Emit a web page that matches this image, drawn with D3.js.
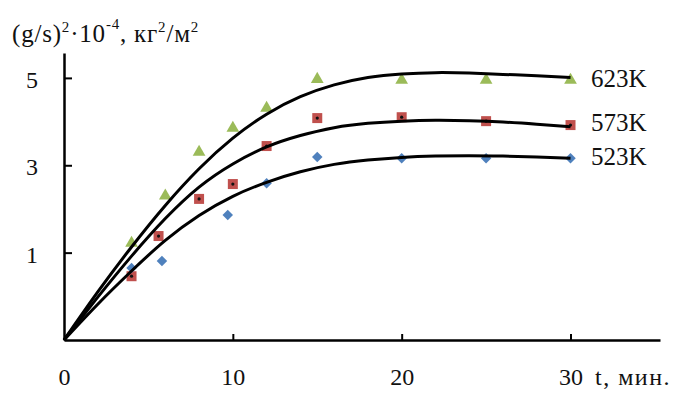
<!DOCTYPE html>
<html>
<head>
<meta charset="utf-8">
<script src="https://d3js.org/d3.v7.min.js"></script>
<style>
  html, body { margin: 0; padding: 0; background: #fff; }
  svg text { font-family: "Liberation Serif", "DejaVu Serif", serif; fill: #111; }
</style>
</head>
<body>
<svg width="676" height="394"></svg>
<script>
// measured points (t, min ; value in axis units)
var t623 = [4, 6, 8, 10, 12, 15, 20, 25, 30];
var v623 = [1.22, 2.30, 3.30, 3.85, 4.31, 4.97, 4.95, 4.95, 4.95];
var t573 = [4, 5.6, 8, 10, 12, 15, 20, 25, 30];
var v573 = [0.46, 1.38, 2.23, 2.57, 3.44, 4.08, 4.10, 4.01, 3.92];
var t523 = [4, 5.8, 9.7, 12, 15, 20, 25, 30];
var v523 = [0.65, 0.81, 1.86, 2.59, 3.19, 3.16, 3.16, 3.16];

// trend curves
var curveT = [0, 2, 4, 6, 8, 10, 12, 14, 16, 18, 20, 22, 24, 26, 28, 30];
var fit623 = [-1, 0.10, 1.13, 2.08, 2.92, 3.62, 4.17, 4.57, 4.84, 5.01, 5.09, 5.12, 5.11, 5.08, 5.05, 5.01];
var fit573 = [-1, -0.02, 0.92, 1.78, 2.50, 3.03, 3.42, 3.68, 3.86, 3.96, 4.01, 4.03, 4.02, 3.99, 3.94, 3.88];
var fit523 = [-1, -0.18, 0.58, 1.28, 1.85, 2.29, 2.61, 2.85, 3.02, 3.12, 3.18, 3.21, 3.22, 3.21, 3.19, 3.16];

var xTicks = [0, 10, 20, 30];
var yTicks = [1, 3, 5];
var labels = ["623K", "573K", "523K"];

var svg = d3.select("svg");

var x = d3.scaleLinear().domain([0, 35.3]).range([64, 660]);
var y = d3.scaleLinear().domain([-1, 5.57]).range([340, 53]);

function pts(ts, vs) { return ts.map(function(t, i) { return [t, vs[i]]; }); }

var series = [
  {name: labels[0], pts: pts(t623, v623), fit: pts(curveT, fit623), color: "#9bbb59", shape: d3.symbolTriangle, size: 70, rot: 0},
  {name: labels[1], pts: pts(t573, v573), fit: pts(curveT, fit573), color: "#c0504d", shape: d3.symbolSquare, size: 100, rot: 0},
  {name: labels[2], pts: pts(t523, v523), fit: pts(curveT, fit523), color: "#4f81bd", shape: d3.symbolSquare, size: 55, rot: 45}
];

// axes
var xAxis = svg.append("g")
    .attr("transform", "translate(0," + y(-1) + ")")
    .call(d3.axisBottom(x).tickValues(xTicks).tickSizeInner(-6).tickSizeOuter(0).tickPadding(28));
var yAxis = svg.append("g")
    .attr("transform", "translate(" + x(0) + ",0)")
    .call(d3.axisLeft(y).tickValues(yTicks).tickFormat(d3.format("d")).tickSizeInner(-8).tickSizeOuter(0).tickPadding(26));

[xAxis, yAxis].forEach(function(a) {
  a.select(".domain").attr("stroke", "#000").attr("stroke-width", 2.5);
  a.selectAll(".tick line").attr("stroke", "#000").attr("stroke-width", 2);
  a.selectAll(".tick text").attr("font-size", 24).attr("fill", "#111")
    .attr("font-family", "Liberation Serif, serif");
});
xAxis.selectAll(".tick").filter(function(d) { return d === 0; }).select("line").remove();
yAxis.selectAll(".tick text").attr("dy", "0.4em");

// markers
series.forEach(function(s) {
  var g = svg.append("g");
  g.selectAll("path")
    .data(s.pts)
    .enter().append("path")
      .attr("transform", function(d) { return "translate(" + x(d[0]) + "," + y(d[1]) + ") rotate(" + s.rot + ")"; })
      .attr("d", d3.symbol().type(s.shape).size(s.size))
      .attr("fill", s.color);
  if (s.size === 100) {
    g.selectAll("circle")
      .data(s.pts)
      .enter().append("circle")
        .attr("cx", function(d) { return x(d[0]); })
        .attr("cy", function(d) { return y(d[1]); })
        .attr("r", 1.6)
        .attr("fill", "#111");
  }
});

// trend curves
var line = d3.line()
    .x(function(d) { return x(d[0]); })
    .y(function(d) { return y(d[1]); })
    .curve(d3.curveNatural);

series.forEach(function(s) {
  svg.append("path")
    .datum(s.fit)
    .attr("fill", "none")
    .attr("stroke", "#000")
    .attr("stroke-width", 3)
    .attr("d", line);
});

// series labels
var labelY = [78, 122, 156];
svg.selectAll(".lbl")
  .data(labels)
  .enter().append("text")
    .attr("class", "lbl")
    .attr("x", 591)
    .attr("y", function(d, i) { return labelY[i]; })
    .attr("dy", "0.34em")
    .attr("font-size", 25)
    .text(function(d) { return d; });

// axis titles
var title = svg.append("text")
    .attr("x", 12)
    .attr("y", 42)
    .attr("font-size", 25)
    .attr("letter-spacing", 0.8);
title.append("tspan").text("(g/s)");
title.append("tspan").attr("dy", -10).attr("font-size", 15).text("2");
title.append("tspan").attr("dy", 10).text("·10");
title.append("tspan").attr("dy", -13).attr("font-size", 15).text("-4");
title.append("tspan").attr("dy", 13).text(", кг");
title.append("tspan").attr("dy", -10).attr("font-size", 15).text("2");
title.append("tspan").attr("dy", 10).text("/м");
title.append("tspan").attr("dy", -10).attr("font-size", 15).text("2");

svg.append("text")
    .attr("x", 595)
    .attr("y", 385)
    .attr("font-size", 24)
    .attr("letter-spacing", 1.5)
    .text("t, мин.");
</script>
</body>
</html>
